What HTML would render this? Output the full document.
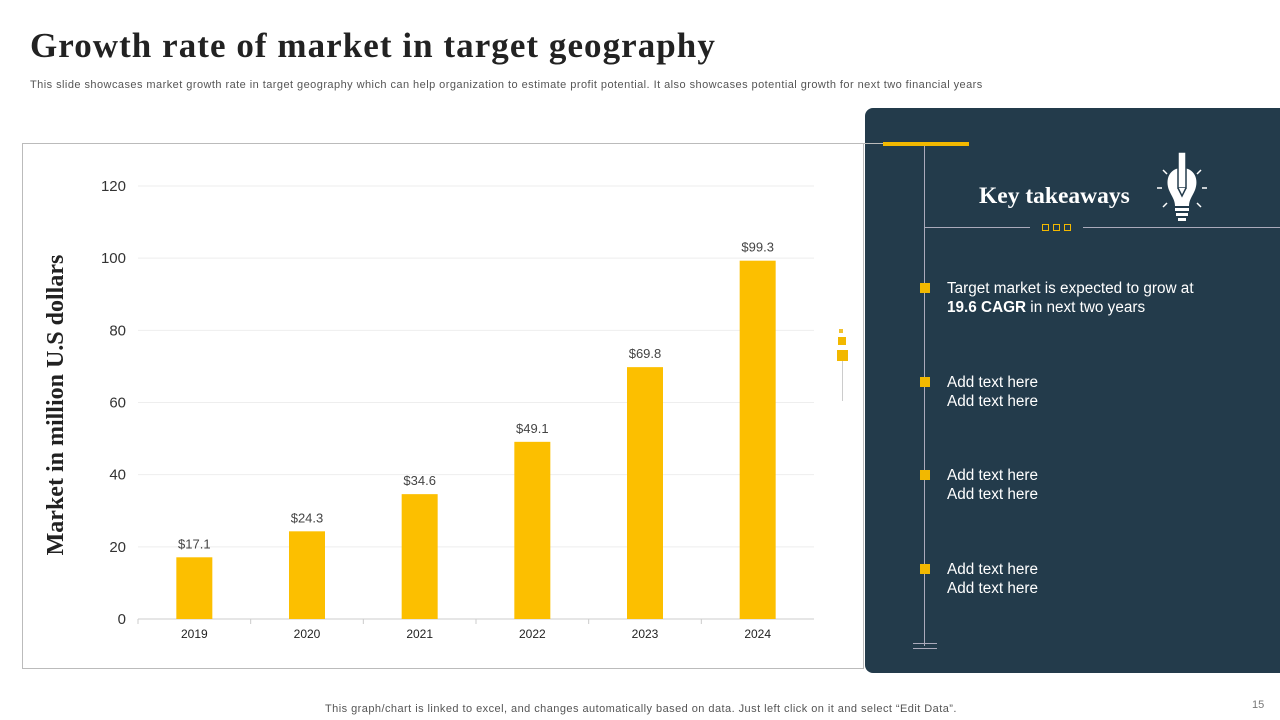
<!DOCTYPE html>
<html><head><meta charset="utf-8"><style>
body{margin:0;width:1280px;height:720px;background:#fff;position:relative;overflow:hidden;font-family:"Liberation Sans",sans-serif}
.a{position:absolute}
</style></head><body>
<div class="a" style="left:30px;top:26px;font-family:'Liberation Serif',serif;font-weight:bold;font-size:35px;letter-spacing:1.05px;color:#222">Growth rate of market  in target geography</div>
<div class="a" style="left:30px;top:79px;font-size:11px;letter-spacing:0.45px;color:#555">This slide showcases market growth rate in target geography which can help organization to estimate profit potential. It also showcases potential growth for next two financial years</div>
<div class="a" style="left:22px;top:143px;width:842px;height:526px;border:1px solid #bbb;box-sizing:border-box"></div>
<svg class="a" style="left:0;top:0" width="1280" height="720">
<g id="g"></g>
<text x="0" y="0" transform="translate(63,405) rotate(-90)" text-anchor="middle" font-family="Liberation Serif" font-weight="bold" font-size="24" fill="#222">Market in million U.S dollars</text>
</svg>
<div class="a" style="left:865px;top:108px;width:415px;height:565px;background:#233b4b;border-radius:8px 0 0 8px"></div>
<div class="a" style="left:864px;top:143px;width:20px;height:1px;background:#bbb"></div>
<div class="a" style="left:883px;top:142px;width:86px;height:4px;background:#f2b800"></div>
<div class="a" style="left:924px;top:146px;width:1px;height:500px;background:#aab"></div>
<div class="a" style="left:913px;top:643px;width:24px;height:1px;background:#aab"></div>
<div class="a" style="left:913px;top:648px;width:24px;height:1px;background:#aab"></div>
<div class="a" style="left:924px;top:227px;width:106px;height:1px;background:#aab"></div>
<div class="a" style="left:1083px;top:227px;width:197px;height:1px;background:#aab"></div>
<div class="a" style="left:1042px;top:224px;">
<span style="position:absolute;left:0;width:5px;height:5px;border:1px solid #f2b800"></span>
<span style="position:absolute;left:11px;width:5px;height:5px;border:1px solid #f2b800"></span>
<span style="position:absolute;left:22px;width:5px;height:5px;border:1px solid #f2b800"></span></div>
<div class="a" style="left:979px;top:183px;font-family:'Liberation Serif',serif;font-weight:bold;font-size:23.5px;color:#fff">Key takeaways</div>
<svg class="a" style="left:1155px;top:150px" width="55" height="75">
<path d="M27 18 C14 18 10 30 14 40 C17 47 20 50 20 56 L34 56 C34 50 37 47 40 40 C44 30 40 18 27 18Z" fill="#fff"/>
<rect x="23" y="2" width="8" height="36" fill="#fff" stroke="#233b4b" stroke-width="1.5"/><path d="M23 38 L27 46 L31 38" fill="#fff" stroke="#233b4b" stroke-width="1.5"/>
<rect x="20" y="58" width="14" height="3" fill="#fff"/><rect x="21" y="63" width="12" height="3" fill="#fff"/><rect x="23" y="68" width="8" height="3" fill="#fff"/>
<g stroke="#fff" stroke-width="1.5"><line x1="2" y1="38" x2="7" y2="38"/><line x1="47" y1="38" x2="52" y2="38"/><line x1="8" y1="20" x2="12" y2="24"/><line x1="46" y1="20" x2="42" y2="24"/><line x1="8" y1="57" x2="12" y2="53"/><line x1="46" y1="57" x2="42" y2="53"/></g></svg>
<div class="a" style="left:839px;top:329px;width:4px;height:4px;background:#f2c230"></div>
<div class="a" style="left:838px;top:337px;width:8px;height:8px;background:#f2b800"></div>
<div class="a" style="left:837px;top:350px;width:11px;height:11px;background:#f2b800"></div>
<div class="a" style="left:842px;top:361px;width:1px;height:40px;background:#ccc"></div>
<div class="a" style="left:920px;top:283px;width:10px;height:10px;background:#f2b800"></div>
<div class="a" style="left:947px;top:279px;font-size:15.3px;line-height:19px;color:#fff">Target market is expected to grow at<br><b>19.6 CAGR</b> in next two years</div>
<div class="a" style="left:920px;top:377px;width:10px;height:10px;background:#f2b800"></div>
<div class="a" style="left:947px;top:373px;font-size:15.3px;line-height:19px;color:#fff">Add text here<br>Add text here</div>
<div class="a" style="left:920px;top:470px;width:10px;height:10px;background:#f2b800"></div>
<div class="a" style="left:947px;top:466px;font-size:15.3px;line-height:19px;color:#fff">Add text here<br>Add text here</div>
<div class="a" style="left:920px;top:564px;width:10px;height:10px;background:#f2b800"></div>
<div class="a" style="left:947px;top:560px;font-size:15.3px;line-height:19px;color:#fff">Add text here<br>Add text here</div>
<div class="a" style="left:325px;top:703px;font-size:11px;letter-spacing:0.45px;color:#555">This graph/chart is linked to excel,  and changes automatically based on data. Just left click on it and select “Edit Data”.</div>
<div class="a" style="left:1252px;top:699px;font-size:11px;color:#777">15</div>
<script>
const categories=["2019","2020","2021","2022","2023","2024"];
const values=[17.1,24.3,34.6,49.1,69.8,99.3];
const valueLabels=["$17.1","$24.3","$34.6","$49.1","$69.8","$99.3"];
const yTicks=[0,20,40,60,80,100,120];
const X0=138,X1=814,Y0=619,Y1=186,YMAX=120;
const y=v=>Y0-(Y0-Y1)*v/YMAX;
const band=(X1-X0)/categories.length;
const x=i=>X0+band*(i+0.5);
const g=document.getElementById('g');const NS='http://www.w3.org/2000/svg';
function mk(t,a){const e=document.createElementNS(NS,t);for(const k in a)e.setAttribute(k,a[k]);g.appendChild(e);return e;}
yTicks.forEach(t=>{
 const l=mk('line',{x1:X0,x2:X1,y1:y(t),y2:y(t),stroke:t?'#eee':'#ccc'});
 
 
 const tx=mk('text',{x:126,y:y(t)+5,'text-anchor':'end','font-size':15,fill:'#333'});tx.textContent=t;
 
 
});
categories.forEach((c,i)=>{
 const b=mk('rect',{x:x(i)-18,y:y(values[i]),width:36,height:Y0-y(values[i]),fill:'#fcbf00'});
 
 
 const v=mk('text',{x:x(i),y:y(values[i])-9,'text-anchor':'middle','font-size':13,fill:'#444'});v.textContent=valueLabels[i];
 
 
 const cl=mk('text',{x:x(i),y:Y0+19,'text-anchor':'middle','font-size':12,fill:'#222'});cl.textContent=c;
 
 
 const tk=mk('line',{x1:X0+band*i,x2:X0+band*i,y1:Y0,y2:Y0+5,stroke:'#ccc'});
 
 
});
</script>
</body></html>
